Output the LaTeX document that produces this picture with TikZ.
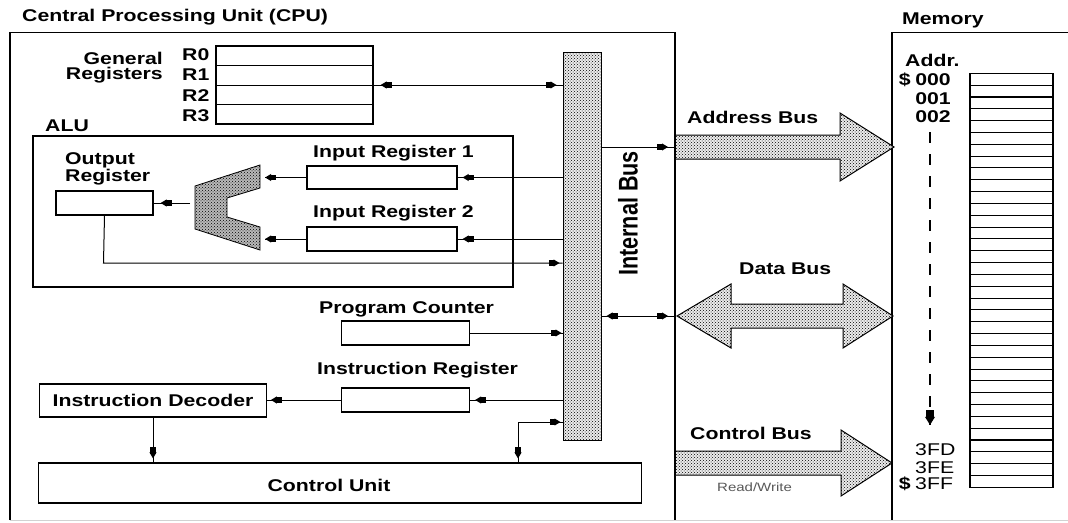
\documentclass[tikz,border=0pt]{standalone}
\usepackage{fontspec}
\setmainfont{Liberation Sans}[FakeStretch=1.25]
\newfontfamily\narrowfont{Liberation Sans}[FakeStretch=0.8]
\usetikzlibrary{patterns,decorations.markings,calc}

\newcommand\tipR{\fill (0,0)--(-6pt,3.6pt)--(-6pt,-3.6pt)--cycle; \fill (-5.5pt,-2.6pt) rectangle (-11pt,2.6pt);}
\newcommand\tipL{\fill (0,0)--(6pt,3.6pt)--(6pt,-3.6pt)--cycle; \fill (5.5pt,-2.6pt) rectangle (11pt,2.6pt);}
\newcommand\tipBig{\fill (0,0)--(-8pt,5pt)--(-8pt,-5pt)--cycle; \fill (-7.5pt,-3.6pt) rectangle (-15pt,3.6pt);}

\tikzset{
  conn/.style={line width=1pt},
  endtip/.style={postaction={decorate,decoration={markings,mark=at position -#1 with {\tipR}}}},
  starttip/.style={postaction={decorate,decoration={markings,mark=at position #1 with {\tipL}}}},
  bigtip/.style={postaction={decorate,decoration={markings,mark=at position -0.1pt with {\tipBig}}}},
  box/.style={draw,line width=1.2pt,inner sep=0pt},
  lbl/.style={font=\fontsize{17}{17}\selectfont\bfseries,inner sep=0pt},
  lbltwo/.style={font=\fontsize{17}{15.5}\selectfont\bfseries,inner sep=0pt},
  lreg/.style={font=\fontsize{17}{17}\selectfont,inner sep=0pt},
  busfill/.style={preaction={fill=gray!15},pattern=crosshatch dots,pattern color=black,draw,line width=1pt},
  alufill/.style={preaction={fill=gray!55},pattern=crosshatch dots,pattern color=black,draw,line width=0.8pt},
}

\begin{document}
\begin{tikzpicture}[x=1pt,y=-1pt]
\useasboundingbox[fill=white] (0,0) rectangle (1068,522);

% outer boxes
\draw[line width=1.2pt] (10,520) -- (10,32.3) -- (675,32.3) -- (675,520);
\draw[line width=1.2pt] (892,520) -- (892,32.3) -- (1070,32.3);
\draw[gray!35,line width=1pt] (10,520.5) -- (1068,520.5);

\node[lbl,anchor=west] (title) at (22,17) {Central Processing Unit (CPU)};
\node[lbl,anchor=west] (memt) at (902,20) {Memory};

% general registers
\node[lbltwo,align=right,anchor=east] (gen) at (163,67.5) {General\\Registers};
\node[lbl,anchor=west] (r0) at (182,55) {R0};
\node[lbl,anchor=west] (r1) at (182,75) {R1};
\node[lbl,anchor=west] (r2) at (182,95.5) {R2};
\node[lbl,anchor=west] (r3) at (182,115.5) {R3};
\node[box,minimum width=157,minimum height=78] (gr) at (294.5,85) {};
\foreach \f in {0.25,0.5,0.75}
  \draw[line width=1pt] ($(gr.north west)!\f!(gr.south west)$) -- ($(gr.north east)!\f!(gr.south east)$);

% ALU
\node[lbl,anchor=west] (alut) at (45,126) {ALU};
\node[box,minimum width=480,minimum height=151] (alu) at (273,211.5) {};
\node[lbltwo,align=left,anchor=west] (outt) at (65,168.5) {Output\\Register};
\node[box,minimum width=97,minimum height=24] (outreg) at (104.5,203) {};
\node[lbl,anchor=west] (ir1t) at (313,153) {Input Register 1};
\node[box,minimum width=150,minimum height=23] (ir1) at (382,177.5) {};
\node[lbl,anchor=west] (ir2t) at (313,213) {Input Register 2};
\node[box,minimum width=150,minimum height=24] (ir2) at (382,239) {};
\draw[alufill] (195,186) -- (260,165) -- (260,188) -- (227,198) -- (227,217) -- (260,227) -- (260,250) -- (195,229) -- cycle;
\coordinate (alur) at (265,207);
\coordinate (alul) at (190,203);

% other registers
\node[lbl,anchor=west] (pct) at (319,309) {Program Counter};
\node[box,minimum width=128,minimum height=24] (pc) at (405.5,333) {};
\node[lbl,anchor=west] (irt) at (317,370) {Instruction Register};
\node[box,minimum width=128,minimum height=24] (ireg) at (405.5,400) {};
\node[box,lbl,minimum width=226.5,minimum height=33] (id) at (153,400.5) {Instruction Decoder};
\node[box,minimum width=603.5,minimum height=40] (cu) at (340,483) {};
\node[lbl] (cut) at (329,485) {Control Unit};

% internal bus
\node[busfill,minimum width=38,minimum height=388,inner sep=0pt] (ibus) at (582,246) {};
\node[font=\narrowfont\fontsize{27}{27}\selectfont\bfseries,rotate=90,inner sep=0pt] (ibt) at (628,213.5) {Internal Bus};

% system buses
\draw[busfill] (675,135) -- (840,135) -- (840,113) -- (894,147) -- (840,181) -- (840,159) -- (675,159) -- cycle;
\draw[line width=2.5pt] (675,135) -- (675,159);
\draw[busfill] (677,316) -- (731,284) -- (731,304) -- (843,304) -- (843,284) -- (893,316) -- (843,348) -- (843,328) -- (731,328) -- (731,348) -- cycle;
\draw[busfill] (675,451) -- (841,451) -- (841,430) -- (892,463) -- (841,496) -- (841,475) -- (675,475) -- cycle;
\draw[line width=2.5pt] (675,451) -- (675,475);
\node[lbl,anchor=west] (abt) at (687,117) {Address Bus};
\node[lbl,anchor=west] (dbt) at (739,269) {Data Bus};
\node[lbl,anchor=west] (cbt) at (690,433) {Control Bus};
\node[font=\fontsize{12}{12}\selectfont,text=gray!70!black,anchor=west,inner sep=0pt] (rw) at (717,487) {Read/Write};

% memory
\node[lbl,anchor=west] (addr) at (905,60) {Addr.};
\node[lbl,anchor=east] (dol0) at (911,80) {\$};
\node[lbl,anchor=east] (a0) at (951,80) {000};
\node[lbl,anchor=east] (a1) at (951,99) {001};
\node[lbl,anchor=east] (a2) at (951,117) {002};
\node[lreg,anchor=west] (a3fd) at (915,450) {3FD};
\node[lreg,anchor=west] (a3fe) at (915,468) {3FE};
\node[lreg,anchor=west] (a3ff) at (915,484) {3FF};
\node[lbl,anchor=east] (dolf) at (911,484) {\$};
\foreach \i in {0,...,34}
  \draw[line width=1.1pt] (970,{73.3+\i*11.83}) rectangle (1053,{73.3+(\i+1)*11.83});
\coordinate (mtop) at (930,132);
\coordinate (mbot) at (930,425);
\draw[dash pattern=on 11pt off 11pt,line width=1.5pt,bigtip] (mtop) -- (mbot);

% connectors
\draw[conn,starttip=7pt,endtip=6pt] (gr.east) -- (ibus.west |- gr.east);
\draw[conn,endtip=5pt] (ibus.west |- ir1.east) -- (ir1.east);
\draw[conn,endtip=5pt] (ibus.west |- ir2.east) -- (ir2.east);
\draw[conn,endtip=0.1pt] (ir1.west) -- (ir1.west -| alur);
\draw[conn,endtip=0.1pt] (ir2.west) -- (ir2.west -| alur);
\draw[conn,endtip=7pt] (alul) -- (alul -| outreg.east);
\coordinate (obend) at (103.5,263);
\draw[conn,endtip=3pt] (outreg.south) -- (obend) -- (ibus.west |- obend);
\draw[conn,endtip=1pt] (pc.east) -- (ibus.west |- pc.east);
\draw[conn,endtip=5pt] (ibus.west |- ireg.east) -- (ireg.east);
\draw[conn,endtip=4pt] (ireg.west) -- (ireg.west -| id.east);
\draw[conn,endtip=4pt] (id.south) -- (id.south |- cu.north);
\coordinate (cbend) at (518,422);
\draw[conn,starttip=2pt,endtip=4pt] (ibus.west |- cbend) -- (cbend) -- (cbend |- cu.north);
\coordinate (abus) at (675,147);
\coordinate (dbus) at (675,316);
\draw[conn,endtip=7pt] (ibus.east |- abus) -- (abus);
\draw[conn,starttip=5pt,endtip=7pt] (ibus.east |- dbus) -- (dbus);
\end{tikzpicture}
\end{document}
